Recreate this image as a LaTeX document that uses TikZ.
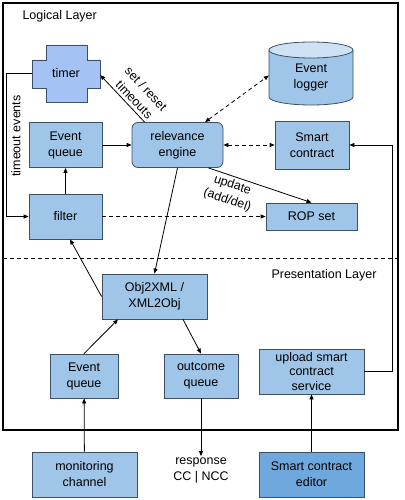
\documentclass[tikz,border=0pt]{standalone}
\usepackage{fontspec}
\setmainfont{Liberation Sans}
\usetikzlibrary{arrows.meta}
\definecolor{boxblue}{HTML}{9FC5E8}
\definecolor{timerblue}{HTML}{A4C2F4}
\definecolor{editorblue}{HTML}{6FA8DC}
\definecolor{lidblue}{HTML}{CFE2F3}
\definecolor{edge}{HTML}{3D4F66}
\tikzset{
  box/.style={draw=edge, fill=boxblue, line width=0.8pt, align=center, inner sep=0pt},
  link/.style={-{Triangle[length=5pt,width=4pt]}, line width=0.8pt},
  dlink/.style={link, dash pattern=on 4pt off 3pt},
  both/.style={{Triangle[length=5pt,width=4pt]}-{Triangle[length=5pt,width=4pt]}},
}
\begin{document}
\begin{tikzpicture}[x=1pt, y=-1pt, font=\fontsize{12.5}{16}\selectfont]
  \useasboundingbox (0,0) rectangle (404,500);
  % layers
  \draw[line width=1.6pt] (3,3) rectangle (398,430);
  \draw[dash pattern=on 4pt off 3pt, line width=0.8pt] (3,258) -- (398,258);
  \node[anchor=west] (logical) at (19,16) {Logical Layer};
  \node[anchor=west] (presentation) at (268,275) {Presentation Layer};

  % timer
  \draw[draw=edge, fill=timerblue, line width=0.8pt] (46,45) -- (87,45) -- (87,60) -- (100,60)
    -- (100,88) -- (87,88) -- (87,102) -- (46,102) -- (46,88) -- (32,88) -- (32,60) -- (46,60) -- cycle;
  \node[minimum width=68, minimum height=57, inner sep=0pt] (timer) at (66,73.5) {timer};

  % event logger
  \fill[boxblue] (269,50) rectangle (353,97);
  \draw[edge, fill=boxblue, line width=0.8pt] (269,50) -- (269,97)
    arc[start angle=180, end angle=360, x radius=42pt, y radius=8pt] -- (353,50);
  \draw[edge, fill=lidblue, line width=0.8pt] (311,50) ellipse[x radius=42pt, y radius=8pt];
  \node[align=center, minimum width=84, inner sep=0pt] (logger) at (311,77) {Event\\logger};

  % logical layer
  \node[box, minimum width=73, minimum height=45] (queue) at (65.5,145) {Event\\queue};
  \node[box, rounded corners=6pt, minimum width=91, minimum height=45] (engine) at (177.5,145) {relevance\\engine};
  \node[box, minimum width=73, minimum height=45] (filter) at (65.5,216.5) {filter};
  \node[box, minimum width=74, minimum height=48] (contract) at (312,145) {Smart\\contract};
  \node[box, minimum width=91, minimum height=27] (rop) at (311.5,216.5) {ROP set};

  % presentation layer
  \node[box, minimum width=105, minimum height=45] (xml) at (154.5,296.5) {Obj2XML /\\XML2Obj};
  \node[box, minimum width=68, minimum height=44] (inqueue) at (84,376) {Event\\queue};
  \node[box, minimum width=74, minimum height=44] (outqueue) at (201,376) {outcome\\queue};
  \node[box, minimum width=105, minimum height=45, font=\fontsize{12.5}{14.5}\selectfont] (upload) at (311.5,371.5) {upload smart\\contract\\service};

  % outside
  \node[box, minimum width=105, minimum height=45] (monitor) at (84.5,474.5) {monitoring\\channel};
  \node[align=center, inner sep=1pt] (response) at (201,470) {response\\CC | NCC};
  \node[box, fill=editorblue, minimum width=105, minimum height=45] (editor) at (311.5,474.5) {Smart contract\\editor};

  % connectors
  \draw[link] (timer.west) -- ++(-25,0) |- (filter.west);
  \node[rotate=90] (tlabel) at (16,136) {timeout events};
  \draw[link] (filter) -- (queue);
  \draw[link] (queue) -- (engine);
  \draw[link] ([xshift=13pt]engine.north west) -- ([yshift=-1.5pt]timer.east)
    node[pos=0.36, sloped, above, align=center, inner sep=3pt] {set / reset\\timeouts};
  \draw[dlink, both] ([xshift=27.5pt]engine.north) -- ([yshift=1.5pt]logger.west);
  \draw[dlink, both] (engine) -- (contract);
  \draw[link] ([xshift=-15pt]engine.south east) -- (rop.north)
    node[pos=0.26, sloped, below, align=center, inner sep=2.5pt] {update\\(add/del)};
  \draw[dlink] (filter) -- (rop);
  \draw[link] (engine.south) -- (xml.north);
  \draw[link] (xml.west) -- ([xshift=4.5pt]filter.south);
  \draw[link] (inqueue.north) -- ([xshift=-36.5pt]xml.south);
  \draw[link] ([xshift=28.5pt]xml.south) -- (outqueue.north);
  \draw[link] (outqueue) -- (response);
  \draw[link] (monitor) -- (inqueue);
  \draw[link] (editor) -- (upload);
  \draw[link] (upload.east) -- ++(28,0) |- (contract.east);
\end{tikzpicture}
\end{document}
